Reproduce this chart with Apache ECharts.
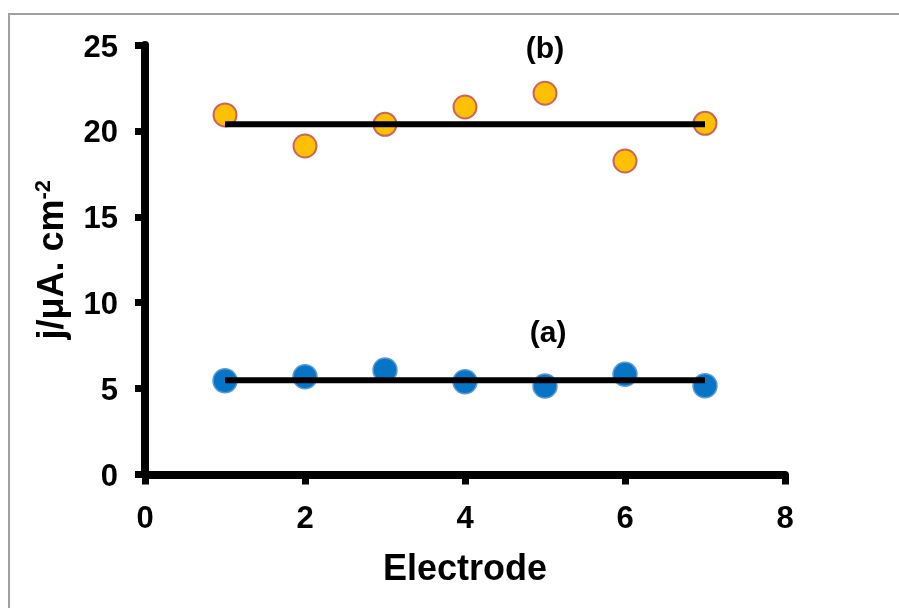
<!DOCTYPE html>
<html lang="en">
<head>
    <meta charset="UTF-8">
    <title>Electrode current density</title>
    <style>
        body { margin: 0; overflow: hidden; background: #fff; }
        #chart { width: 899px; height: 608px; }
    </style>
</head>
<body>
    <div id="chart"></div>
    <script src="https://cdn.jsdelivr.net/npm/echarts@6/dist/echarts.min.js"></script>
    <script>
        // data
        var electrodes = [1, 2, 3, 4, 5, 6, 7];
        var seriesA = [5.46, 5.69, 6.08, 5.40, 5.15, 5.83, 5.17];
        var seriesB = [20.93, 19.12, 20.38, 21.39, 22.19, 18.25, 20.44];
        var meanA = 5.49;
        var meanB = 20.38;
        var xTicks = [0, 2, 4, 6, 8];
        var yTicks = [0, 5, 10, 15, 20, 25];
        var notes = [
            { name: '(a)', value: [5.04, 8.2] },
            { name: '(b)', value: [5.0, 24.7] }
        ];

        var font = "'Liberation Sans', Arial, sans-serif";

        function pairs(xs, ys) {
            return xs.map(function (x, i) { return [x, ys[i]]; });
        }
        function flat(xs, v) {
            return [[xs[0], v], [xs[xs.length - 1], v]];
        }

        function axisBase(labelExtra) {
            return {
                axisLine: { show: true, onZero: false, lineStyle: { color: '#000', width: 8 } },
                axisTick: { show: true, inside: false, length: 10, lineStyle: { color: '#000', width: 7 } },
                splitLine: { show: false },
                axisLabel: Object.assign({ color: '#000', fontSize: 31, fontWeight: 'bold', fontFamily: font }, labelExtra)
            };
        }

        var myChart = echarts.init(document.getElementById('chart'));
        var option = {
            backgroundColor: '#fff',
            animation: false,
            grid: { left: 145, right: 114, top: 45, bottom: 133.5 },
            graphic: [{
                type: 'rect',
                shape: { x: 9, y: 14, width: 1000, height: 1000 },
                style: { fill: 'none', stroke: '#a0a0a0', lineWidth: 2 },
                silent: true
            }],
            xAxis: Object.assign(axisBase({ margin: 29 }), {
                type: 'value',
                min: xTicks[0],
                max: xTicks[xTicks.length - 1],
                interval: xTicks[1] - xTicks[0],
                name: 'Electrode',
                nameLocation: 'middle',
                nameGap: 78,
                nameTextStyle: { color: '#000', fontSize: 36, fontWeight: 'bold', fontFamily: font }
            }),
            yAxis: Object.assign(axisBase({ margin: 27, verticalAlign: 'top', lineHeight: 6 }), {
                type: 'value',
                min: yTicks[0],
                max: yTicks[yTicks.length - 1],
                interval: yTicks[1] - yTicks[0],
                name: '{n|j/\u03bcA. cm}{s|-2}',
                nameLocation: 'middle',
                nameRotate: 90,
                nameGap: 72,
                nameTextStyle: {
                    color: '#000',
                    rich: {
                        n: { fontSize: 36, fontWeight: 'bold', fontFamily: font, color: '#000', lineHeight: 40 },
                        s: { fontSize: 22, fontWeight: 'bold', fontFamily: font, color: '#000', verticalAlign: 'top', lineHeight: 40 }
                    }
                }
            }),
            series: [
                {
                    name: '(b)',
                    type: 'scatter',
                    symbolSize: 23,
                    itemStyle: { color: '#ffc000', borderColor: '#c9675b', borderWidth: 2, opacity: 1 },
                    data: pairs(electrodes, seriesB),
                    z: 2
                },
                {
                    name: '(a)',
                    type: 'scatter',
                    symbolSize: 24,
                    itemStyle: { color: '#0874c6', borderColor: '#5a9ad6', borderWidth: 1.5, opacity: 1 },
                    data: pairs(electrodes, seriesA),
                    z: 2
                },
                {
                    name: 'mean b',
                    type: 'line',
                    symbol: 'none',
                    lineStyle: { color: '#000', width: 6 },
                    data: flat(electrodes, meanB),
                    z: 3
                },
                {
                    name: 'mean a',
                    type: 'line',
                    symbol: 'none',
                    lineStyle: { color: '#000', width: 6 },
                    data: flat(electrodes, meanA),
                    z: 3
                },
                {
                    name: 'notes',
                    type: 'scatter',
                    symbolSize: 0,
                    itemStyle: { opacity: 0 },
                    label: {
                        show: true,
                        position: 'inside',
                        formatter: '{b}',
                        color: '#000',
                        opacity: 1,
                        textBorderWidth: 0,
                        fontSize: 30,
                        fontWeight: 'bold',
                        fontFamily: font
                    },
                    data: notes,
                    z: 4
                }
            ]
        };
        myChart.setOption(option);
    </script>
</body>
</html>
